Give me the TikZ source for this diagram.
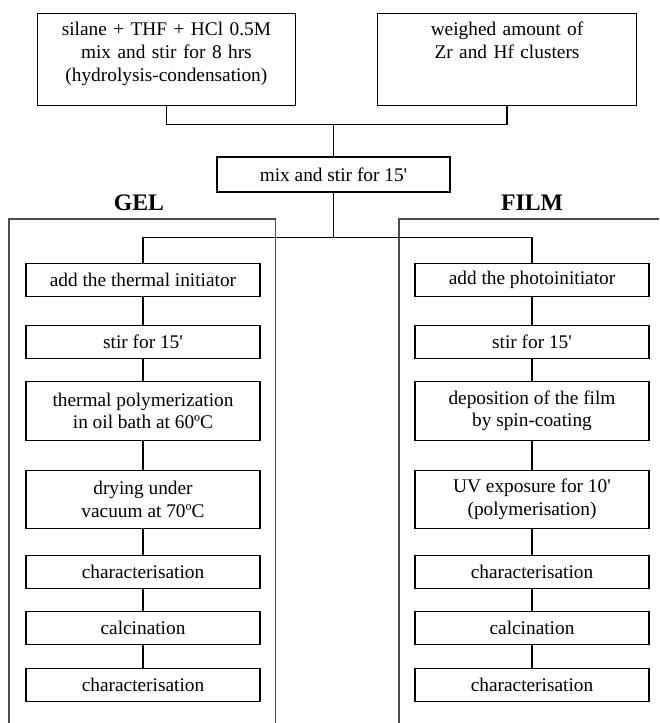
\documentclass[tikz,border=0pt]{standalone}
\usepackage{fontspec}
\setmainfont{Liberation Serif}
\usetikzlibrary{positioning}
\tikzset{
    stepbox/.style={rectangle, draw, align=center, minimum width=46.8mm, minimum height=6.6mm, inner sep=1pt},
    twobox/.style={stepbox, minimum height=11.7mm},
    topbox/.style={rectangle, draw, align=center, text width=49mm, minimum width=51.7mm, text height=8pt, text depth=35.4pt, inner ysep=4.6pt, font=\fontsize{11}{13.2}\selectfont},
    branch/.style={font=\fontsize{13.5}{16}\selectfont\bfseries},
    frame/.style={draw=black!70, line width=0.8pt}
}
\begin{document}
\begin{tikzpicture}[x=0.2mm, y=-0.2mm, line width=0.6pt, font=\fontsize{11}{12.8}\selectfont, node distance=5.8mm]
    \useasboundingbox (0,0) rectangle (659,723);
    % starting materials
    \node[topbox, anchor=north] (silane) at (166.4,12.7) {silane + THF + HCl 0.5M\\mix and stir for 8 hrs\\(hydrolysis-condensation)};
    \node[topbox, anchor=north] (clusters) at (507,12.7) {weighed amount of\\Zr and Hf clusters};
    \node[stepbox, minimum width=46.6mm, minimum height=7mm] (mix) at (333.5,174.5) {mix and stir for 15\textquotesingle};
    \coordinate[above=6.4mm of mix] (join);
    \coordinate[below=9mm of mix] (split);
    \draw (silane.south) |- (join) -| (clusters.south);
    \draw (join) -- (mix);
    % the two routes
    \node[branch] (gellabel) at (139,203) {GEL};
    \node[branch] (filmlabel) at (532,203) {FILM};
    \draw[frame] (9,723) |- (275.7,219) -- (275.7,723);
    \draw[frame] (399,723) |- (659,219);
    % gel route
    \node[stepbox] (thinit) at (143,280) {add the thermal initiator};
    \node[stepbox, below=5.6mm of thinit] (gelstir) {stir for 15\textquotesingle};
    \node[twobox, below=4.4mm of gelstir] (thpoly) {thermal polymerization\\in oil bath at 60ºC};
    \node[twobox, below=of thpoly] (drying) {drying under\\vacuum at 70ºC};
    \node[stepbox, below=5.2mm of drying] (gelchar) {characterisation};
    \node[stepbox, below=4.4mm of gelchar] (gelcalc) {calcination};
    \node[stepbox, below=4.6mm of gelcalc] (gelrechar) {characterisation};
    % film route
    \node[stepbox] (phinit) at (532,280) {add the photoinitiator};
    \node[stepbox, below=5.6mm of phinit] (filmstir) {stir for 15\textquotesingle};
    \node[twobox, below=4.4mm of filmstir] (spin) {deposition of the film\\by spin-coating};
    \node[twobox, below=of spin] (uv) {UV exposure for 10\textquotesingle\\(polymerisation)};
    \node[stepbox, below=5.2mm of uv] (filmchar) {characterisation};
    \node[stepbox, below=4.4mm of filmchar] (filmcalc) {calcination};
    \node[stepbox, below=4.6mm of filmcalc] (filmrechar) {characterisation};
    % connectors
    \draw (mix) -- (split);
    \draw (thinit.north) |- (split) -| (phinit.north);
    \draw (thinit) -- (gelstir);
    \draw (gelstir) -- (thpoly);
    \draw (thpoly) -- (drying);
    \draw (drying) -- (gelchar);
    \draw (gelchar) -- (gelcalc);
    \draw (gelcalc) -- (gelrechar);
    \draw (phinit) -- (filmstir);
    \draw (filmstir) -- (spin);
    \draw (spin) -- (uv);
    \draw (uv) -- (filmchar);
    \draw (filmchar) -- (filmcalc);
    \draw (filmcalc) -- (filmrechar);
\end{tikzpicture}
\end{document}
